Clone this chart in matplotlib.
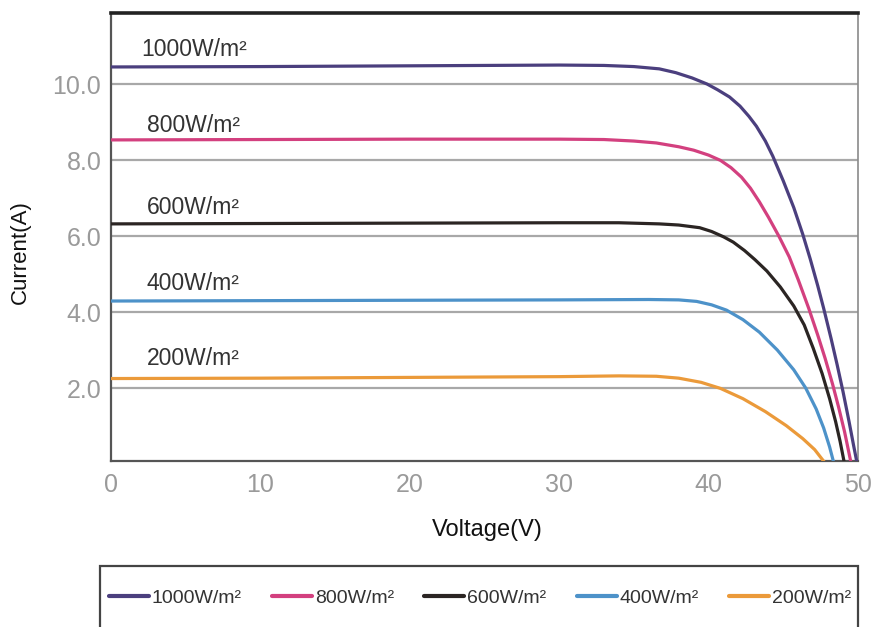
import matplotlib
matplotlib.use("Agg")
import matplotlib.pyplot as plt
from matplotlib.patches import Rectangle

# I-V curves (voltage in V, current in A)
v_1000 = [0, 10, 20, 30, 33, 35, 36.7, 37.8, 38.9, 39.9, 40.6, 41.4, 42.1, 42.7, 43.2, 43.8, 44.3, 45.0,
          45.7, 46.3, 46.8, 47.3, 47.7, 48.2, 48.6, 49.0, 49.4, 49.7, 49.95]
i_1000 = [10.45, 10.46, 10.48, 10.5, 10.49, 10.46, 10.40, 10.30, 10.16, 10.0, 9.85, 9.66, 9.42, 9.15, 8.89,
          8.5, 8.1, 7.45, 6.75, 6.05, 5.4, 4.7, 4.1, 3.3, 2.62, 1.9, 1.12, 0.5, 0.0]

v_800 = [0, 10, 20, 30, 33, 35, 36.5, 38, 39, 40, 40.8, 41.5, 42.2, 42.8, 43.4, 44.0, 44.7, 45.4, 46.0,
         46.7, 47.3, 47.8, 48.3, 48.7, 49.1, 49.55]
i_800 = [8.53, 8.54, 8.55, 8.55, 8.54, 8.5, 8.45, 8.35, 8.26, 8.13, 7.99, 7.8, 7.55, 7.26, 6.9, 6.5, 6.0,
         5.45, 4.85, 4.1, 3.4, 2.78, 2.1, 1.5, 0.85, 0.0]

v_600 = [0, 10, 20, 30, 34, 36.7, 38, 39.4, 40.2, 41.0, 41.65, 42.4, 43.1, 43.9, 44.8, 45.7, 46.4, 47.0,
         47.6, 48.1, 48.5, 48.8, 49.1]
i_600 = [6.32, 6.33, 6.34, 6.35, 6.35, 6.32, 6.29, 6.22, 6.12, 5.98, 5.84, 5.62, 5.38, 5.08, 4.66, 4.16,
         3.66, 3.05, 2.38, 1.72, 1.12, 0.6, 0.0]

v_400 = [0, 10, 20, 30, 36, 38, 39.2, 40.2, 41.2, 42.3, 43.4, 44.6, 45.7, 46.5, 47.2, 47.7, 48.1, 48.4]
i_400 = [4.29, 4.30, 4.31, 4.32, 4.33, 4.32, 4.28, 4.19, 4.05, 3.8, 3.47, 3.0, 2.48, 2.0, 1.45, 0.95, 0.45, 0.0]

v_200 = [0, 10, 20, 30, 34, 36.5, 38, 39.5, 40.8, 42.3, 43.8, 45.2, 46.3, 47.1, 47.85]
i_200 = [2.25, 2.26, 2.28, 2.3, 2.32, 2.31, 2.26, 2.15, 1.99, 1.72, 1.38, 1.01, 0.67, 0.38, 0.0]

labels = ["1000W/m²", "800W/m²", "600W/m²", "400W/m²", "200W/m²"]
colors = ["#4b3f7e", "#d3407f", "#2b2523", "#4d92c9", "#eb9a3a"]
# where the irradiance labels sit above each curve
label_x = [2.0, 2.4, 2.4, 2.4, 2.4]
label_y = [10.9, 8.92, 6.76, 4.74, 2.79]

yticks = [2, 4, 6, 8, 10]
xticks = [0, 10, 20, 30, 40, 50]

plt.rcParams['font.family'] = ['Liberation Sans', 'DejaVu Sans']

fig = plt.figure(figsize=(8.74, 6.27), dpi=100)
ax = fig.add_axes([111 / 874, 1 - 461 / 627, 747 / 874, 448 / 627])

series = [(v_1000, i_1000), (v_800, i_800), (v_600, i_600), (v_400, i_400), (v_200, i_200)]
handles = []
for (v, i), lab, c in zip(series, labels, colors):
    h, = ax.plot(v, i, color=c, lw=2.3, solid_joinstyle='round', solid_capstyle='round',
                 zorder=3, label=lab)
    handles.append(h)

for lab, x, y in zip(labels, label_x, label_y):
    ax.text(x, y, lab, fontsize=16.5, color="#333333", ha='left', va='center')

ax.set_xlim(0, 50)
ax.set_ylim(0.08, 11.87)
ax.set_xticks(xticks)
ax.set_yticks(yticks)
ax.set_yticklabels(["%.1f" % t for t in yticks])
ax.tick_params(length=0, labelsize=18, labelcolor="#9a9a9a")
ax.tick_params(axis='x', pad=9)
ax.tick_params(axis='y', pad=7)
ax.yaxis.grid(True, color="#a8a8a8", lw=1.6, zorder=1)

ax.spines['top'].set_color("#222222")
ax.spines['top'].set_linewidth(2.6)
ax.spines['left'].set_color("#555555")
ax.spines['left'].set_linewidth(1.6)
ax.spines['bottom'].set_color("#555555")
ax.spines['bottom'].set_linewidth(1.6)
ax.spines['right'].set_color("#8a8a8a")
ax.spines['right'].set_linewidth(1.2)

fig.text(20 / 874, 1 - 252 / 627, "Current(A)", fontsize=16, rotation=90,
         ha='center', va='center', color="#111111")
fig.text(487 / 874, 1 - 530 / 627, "Voltage(V)", fontsize=17,
         ha='center', va='center', color="#111111")

# legend box runs off the bottom of the picture
fig.patches.append(Rectangle((100 / 874, -0.05), 758 / 874, (627 - 566) / 627 + 0.05,
                             transform=fig.transFigure, fill=False, edgecolor="#444444", lw=1.6))
leg = fig.legend(handles, labels, loc='center', bbox_to_anchor=(480 / 874, 1 - 598 / 627),
                 ncol=5, frameon=False, prop={'size': 14},
                 handlelength=2.06, handletextpad=0.15, columnspacing=1.55, borderaxespad=0)
for t in leg.get_texts():
    t.set_color("#333333")
for l in leg.get_lines():
    l.set_linewidth(3)

fig.savefig("out.png", dpi=100)
